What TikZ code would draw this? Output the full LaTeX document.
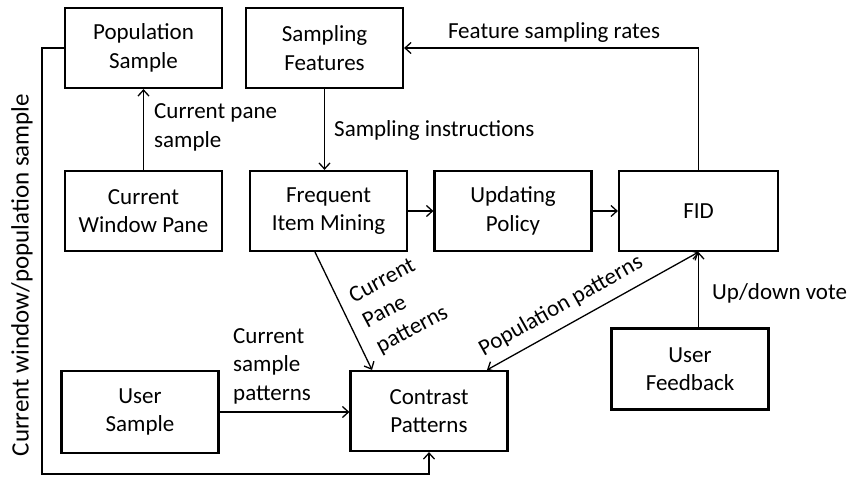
\documentclass[tikz,border=0pt]{standalone}
\usepackage{fontspec}
\setmainfont{Carlito}
\usetikzlibrary{arrows.meta,calc}
\begin{document}
\begin{tikzpicture}[x=1pt,y=-1pt,
  txt/.style={font=\fontsize{23}{28.5}\selectfont},
  box/.style={txt, draw, line width=2.2pt, minimum width=157pt, minimum height=80pt,
    align=center, inner sep=0pt},
  lbl/.style={txt, inner sep=0pt, align=left},
  tip/.tip={Straight Barb[length=6pt,width=11pt,line width=1.3pt]},
  conn/.style={line width=1.3pt, -tip},
  both/.style={line width=1.3pt, tip-tip}
]
\useasboundingbox (0,0) rectangle (850,477);

% process boxes
\node[box] (pops)  at (143.5,48)  {Population\\Sample};
\node[box] (sampf) at (324.5,48)  {Sampling\\Features};
\node[box] (cwp)   at (143.5,211) {Current\\Window Pane};
\node[box] (fim)   at (328.5,211) {Frequent\\Item Mining};
\node[box] (upd)   at (513,211)   {Updating\\Policy};
\node[box, minimum width=159pt] (fid) at (698.5,211) {FID};
\node[box, minimum height=81pt] (uf) at (690,369) {User\\Feedback};
\node[box, minimum height=82pt] (us) at (140,412) {User\\Sample};
\node[box] (cp)    at (429,411)   {Contrast\\Patterns};

% connectors
\draw[conn] (cwp) -- (pops);
\draw[conn] (sampf.south) -- (sampf.south |- fim.north);
\draw[conn] (fim) -- (upd);
\draw[conn] (upd) -- (fid);
\draw[conn] (fid.north) |- (sampf.east);
\draw[conn] ([xshift=-13.5pt]fim.south) -- ([xshift=-57pt]cp.north);
\draw[both] (fid.south) -- ([xshift=58pt]cp.north);
\draw[conn] (uf.north -| fid.south) -- (fid.south);
\draw[conn] (us.east) -- (cp.west |- us.east);
\coordinate (loop) at (42,474);
\draw[conn] (pops.west) -| (loop) -| (cp.south);

% connector labels
\node[lbl, anchor=west] (l1) at (154,127.5) {Current pane\\sample};
\node[lbl, anchor=west] (l2) at (334,130) {Sampling instructions};
\node[lbl] (l3) at (554,32) {Feature sampling rates};
\node[lbl, anchor=west] (l4) at (712,293) {Up/down vote};
\node[lbl, anchor=west] (l5) at (233,366) {Current\\sample\\patterns};
\node[lbl, rotate=28] (l6) at (399,305) {Current\\Pane\\patterns};
\node[lbl, rotate=29.3] (l7) at (561,306) {Population patterns};
\node[lbl, rotate=90, font=\fontsize{25}{30}\selectfont] (l8) at (22,275) {Current window/population sample};
\end{tikzpicture}
\end{document}
